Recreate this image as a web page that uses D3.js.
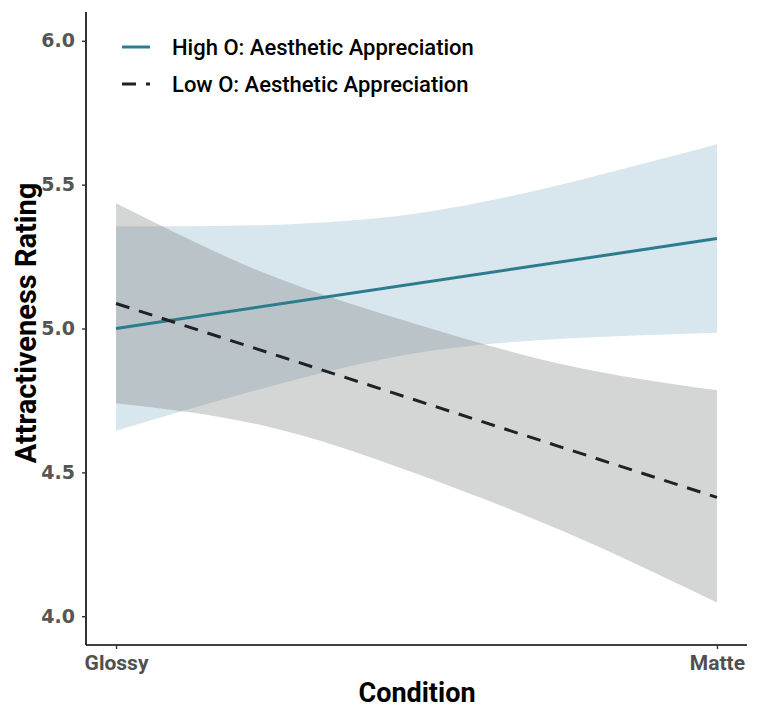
<!DOCTYPE html>
<html>
<head>
<meta charset="utf-8">
<script src="https://cdn.jsdelivr.net/npm/d3@7"></script>
<style>
  body { margin: 0; background: #fff; }
  svg { display: block; }
  text { font-family: "Roboto", "Liberation Sans", sans-serif; }
  .ytick text { font-family: "DejaVu Sans", sans-serif; }
</style>
</head>
<body>
<svg id="chart" width="759" height="713"></svg>
<script>
// ---- data ----
const conditions = ["Glossy", "Matte"];
const conditionPos = [0, 1];
const yTicks = [4.0, 4.5, 5.0, 5.5, 6.0];

const bandX = [0, 0.25, 0.5, 0.75, 1];
const highLower = [4.645, 4.795, 4.915, 4.965, 4.985];
const highUpper = [5.355, 5.36, 5.40, 5.505, 5.64];
const lowLower  = [4.74, 4.66, 4.495, 4.29, 4.048];
const lowUpper  = [5.435, 5.19, 5.015, 4.872, 4.785];

const highLine = [5.0, 5.3125];
const lowLine  = [5.087, 4.413];

const seriesNames = ["High O: Aesthetic Appreciation", "Low O: Aesthetic Appreciation"];

// ---- layout ----
const svg = d3.select("#chart");
const x = d3.scaleLinear().domain([-0.05, 1.05]).range([86, 747]);
const y = d3.scaleLinear().domain([3.9, 6.1]).range([645, 12]);

const area = d3.area()
  .x(d => x(d.x)).y0(d => y(d.lo)).y1(d => y(d.hi))
  .curve(d3.curveNatural);

const highBand = bandX.map((v, i) => ({x: v, lo: highLower[i], hi: highUpper[i]}));
const lowBand  = bandX.map((v, i) => ({x: v, lo: lowLower[i],  hi: lowUpper[i]}));

svg.append("path").datum(highBand).attr("d", area)
  .attr("fill", "#74a6bf").attr("fill-opacity", 0.28);
svg.append("path").datum(lowBand).attr("d", area)
  .attr("fill", "#717373").attr("fill-opacity", 0.3);

const line = d3.line().x(d => x(d.x)).y(d => y(d.y));
svg.append("path")
  .datum(conditionPos.map((p, i) => ({x: p, y: highLine[i]})))
  .attr("d", line).attr("fill", "none")
  .attr("stroke", "#2c7c8d").attr("stroke-width", 3);
svg.append("path")
  .datum(conditionPos.map((p, i) => ({x: p, y: lowLine[i]})))
  .attr("d", line).attr("fill", "none")
  .attr("stroke", "#1e2224").attr("stroke-width", 3)
  .attr("stroke-dasharray", "14,10");

// ---- axes ----
const yAxis = d3.axisLeft(y).tickValues(yTicks).tickFormat(d3.format(".1f")).tickSize(4).tickPadding(7);
const gy = svg.append("g").attr("class", "ytick").attr("transform", "translate(86,0)").call(yAxis);
gy.select(".domain").attr("stroke", "#000").attr("stroke-width", 1.6);
gy.selectAll(".tick line").attr("stroke", "#333").attr("stroke-width", 1.4);
gy.selectAll(".tick text").attr("fill", "#555").attr("font-size", 19).attr("font-weight", "bold");

const xAxis = d3.axisBottom(x).tickValues(conditionPos).tickFormat((d, i) => conditions[i]).tickSize(4).tickPadding(6);
const gx = svg.append("g").attr("transform", "translate(0,645)").call(xAxis);
gx.select(".domain").attr("stroke", "#000").attr("stroke-width", 1.6);
gx.selectAll(".tick line").attr("stroke", "#333").attr("stroke-width", 1.4);
gx.selectAll(".tick text").attr("fill", "#505050").attr("font-size", 21).attr("font-weight", "bold");
gy.select(".domain").attr("d", "M0,12V645");
gx.select(".domain").attr("d", "M86,0H747");

svg.append("text").attr("x", 417).attr("y", 702).attr("text-anchor", "middle")
  .attr("font-size", 27).attr("font-weight", "bold").attr("fill", "#000").text("Condition");
svg.append("text").attr("transform", "translate(36,323) rotate(-90)").attr("text-anchor", "middle")
  .attr("font-size", 29).attr("font-weight", "bold").attr("fill", "#000").text("Attractiveness Rating");

// ---- legend ----
const leg = svg.append("g");
const legY = [47, 84];
leg.append("line").attr("x1", 122).attr("x2", 150).attr("y1", legY[0]).attr("y2", legY[0])
  .attr("stroke", "#2c7c8d").attr("stroke-width", 3);
leg.append("line").attr("x1", 122).attr("x2", 150).attr("y1", legY[1]).attr("y2", legY[1])
  .attr("stroke", "#1e2224").attr("stroke-width", 3).attr("stroke-dasharray", "14,10");
seriesNames.forEach((n, i) => {
  leg.append("text").attr("x", 172).attr("y", legY[i] + 8)
    .attr("font-size", 22).attr("font-weight", 500).attr("fill", "#000").text(n);
});
</script>
</body>
</html>
